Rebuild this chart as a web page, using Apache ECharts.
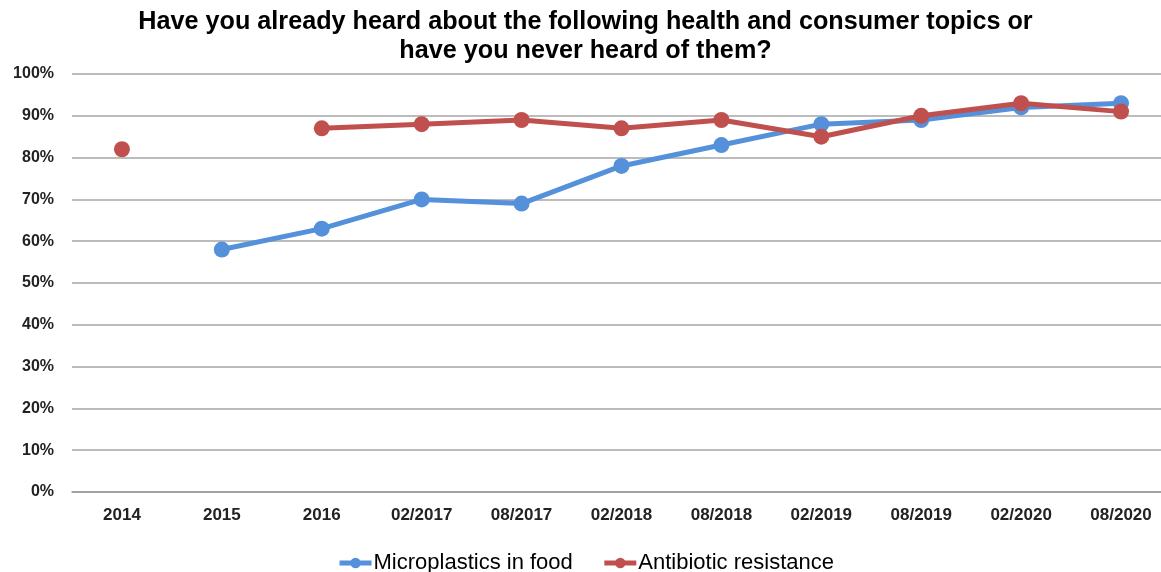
<!DOCTYPE html>
<html>
<head>
<meta charset="utf-8">
<script src="https://cdn.jsdelivr.net/npm/echarts@6/dist/echarts.min.js"></script>
<style>
  html, body { margin: 0; padding: 0; background: #fff; overflow: hidden; }
  /* the plot runs 10px past the right edge of the page */
  #chart { width: 1171px; height: 572px; }
</style>
</head>
<body>
<div id="chart"></div>
<script>
// Survey waves
const categories = ['2014', '2015', '2016', '02/2017', '08/2017', '02/2018', '08/2018', '02/2019', '08/2019', '02/2020', '08/2020'];
// Share of respondents who have heard of each topic (%)
const microplastics = [null, 58, 63, 70, 69, 78, 83, 88, 89, 92, 93];
const antibiotics = [82, null, 87, 88, 89, 87, 89, 85, 90, 93, 91];
const seriesNames = ['Microplastics in food', 'Antibiotic resistance'];
const titleText = 'Have you already heard about the following health and consumer topics or\nhave you never heard of them?';

const FONT = '"Liberation Sans", Arial, sans-serif';
const chart = echarts.init(document.getElementById('chart'), null, { renderer: 'canvas' });

function lineSeries(name, data, color, z) {
  return {
    name: name,
    type: 'line',
    data: data,
    z: z,
    connectNulls: false,
    symbol: 'circle',
    symbolSize: 16,
    lineStyle: { width: 5, color: color },
    itemStyle: { color: color },
    emphasis: { disabled: true }
  };
}

chart.setOption({
  animation: false,
  backgroundColor: '#ffffff',
  title: {
    text: titleText,
    left: 'center',
    top: 3,
    // extra right padding keeps the title centred on the visible 1161px
    padding: [5, 15, 5, 5],
    textStyle: { fontFamily: FONT, fontSize: 25.2, fontWeight: 'bold', color: '#000', lineHeight: 29 }
  },
  legend: {
    top: 547,
    left: 'center',
    padding: [5, 17, 5, 5],
    itemGap: 29,
    itemWidth: 32,
    itemHeight: 13,
    lineStyle: { width: 5 },
    textStyle: { fontFamily: FONT, fontSize: 22, color: '#000', padding: [0, 0, 0, -3] },
    data: seriesNames
  },
  grid: { left: 72, top: 74, right: 0, bottom: 80, containLabel: false },
  xAxis: {
    type: 'category',
    data: categories,
    boundaryGap: true,
    axisLine: { lineStyle: { color: '#999', width: 1.5 } },
    axisTick: { show: false },
    axisLabel: { fontFamily: FONT, fontSize: 17, fontWeight: 'bold', color: '#222', margin: 15 }
  },
  yAxis: {
    type: 'value',
    min: 0,
    max: 100,
    interval: 10,
    axisLine: { show: false },
    axisTick: { show: false },
    splitLine: { lineStyle: { color: '#a6a6a6', width: 1.5 } },
    axisLabel: { fontFamily: FONT, fontSize: 16, fontWeight: 'bold', color: '#222', margin: 18, formatter: '{value}%' }
  },
  series: [
    lineSeries(seriesNames[0], microplastics, '#5590DA', 2),
    lineSeries(seriesNames[1], antibiotics, '#C0504D', 3)
  ]
});
</script>
</body>
</html>
